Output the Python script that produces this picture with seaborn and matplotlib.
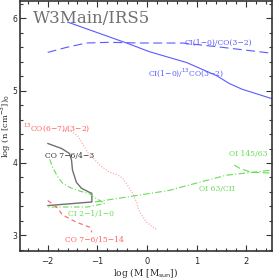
import numpy as np
import pandas as pd
import matplotlib
matplotlib.use('Agg')
import matplotlib.pyplot as plt
from matplotlib.ticker import MultipleLocator
import seaborn as sns

# curves (log M, log n)
ci_co_x = [-2.0, -1.62, -1.22, -0.75, -0.15, 0.31, 0.72, 1.40, 2.5]
ci_co_y = [5.53, 5.60, 5.66, 5.67, 5.66, 5.66, 5.66, 5.61, 5.52]

ci_13co_x = [-1.60, -0.41, 0.05, 0.80, 1.40, 1.66, 1.92, 2.52]
ci_13co_y = [5.95, 5.66, 5.54, 5.39, 5.21, 5.10, 5.02, 4.89]

co13_x = [-1.70, -1.56, -1.40, -1.30, -1.20, -1.09, -0.95, -0.75, -0.61, -0.49,
          -0.39, -0.29, -0.21, -0.15, -0.01, 0.21]
co13_y = [4.45, 4.45, 4.38, 4.27, 4.15, 4.07, 3.97, 3.87, 3.84, 3.79,
          3.69, 3.58, 3.46, 3.32, 3.18, 3.07]

co76_43_x = [-2.00, -1.72, -1.56, -1.52, -1.50, -1.42, -1.32, -1.15, -1.11, -1.11, -2.00]
co76_43_y = [4.27, 4.20, 4.13, 4.04, 3.90, 3.73, 3.65, 3.59, 3.58, 3.46, 3.41]

ci21_x = [-1.96, -1.90, -1.80, -1.70, -1.55, -1.35, -1.15, -1.05, -0.85, -1.20, -1.60, -2.0]
ci21_y = [4.05, 3.94, 3.81, 3.72, 3.66, 3.61, 3.57, 3.52, 3.44, 3.39, 3.39, 3.39]

co76_1514_x = [-2.0, -1.82, -1.70, -1.42, -1.15, -1.11]
co76_1514_y = [3.48, 3.39, 3.28, 3.18, 3.11, 3.04]

oi63_x = [-1.05, 0.45, 0.66, 1.60, 2.51]
oi63_y = [3.46, 3.62, 3.66, 3.83, 3.90]

oi145_x = [1.76, 1.86, 2.10, 2.51]
oi145_y = [3.97, 3.93, 3.87, 3.86]

blue = '#5a5aff'
red = '#ff6060'
pink = '#ffa0a0'
green = '#66dd55'
gray = '#707070'

sns.set_style('ticks')
plt.rcParams['font.family'] = ['DejaVu Serif']

fig = plt.figure(figsize=(2.73, 2.79), dpi=100)
ax = fig.add_axes([0.073, 0.100, 0.923, 0.896])

def curve(x, y, color, ls, lw=0.8):
    df = pd.DataFrame({'x': x, 'y': y})
    sns.lineplot(data=df, x='x', y='y', sort=False, estimator=None,
                 color=color, linestyle=ls, linewidth=lw, ax=ax)

curve(ci_co_x, ci_co_y, blue, (0, (8, 4)))
curve(ci_13co_x, ci_13co_y, blue, '-')
curve(co13_x, co13_y, pink, (0, (1, 1.5)))
curve(co76_43_x, co76_43_y, gray, '-', 1.0)
curve(ci21_x, ci21_y, green, (0, (5, 2, 1, 2)))
curve(co76_1514_x, co76_1514_y, red, (0, (4, 3)))
curve(oi63_x, oi63_y, green, (0, (6, 2, 1, 2)))
curve(oi145_x, oi145_y, green, (0, (6, 3)))

fs = 5.5
ax.text(0.76, 5.66, 'CI(1\u22120)/CO(3\u22122)', color=blue, fontsize=fs, va='center')
ax.text(0.03, 5.25, 'CI(1\u22120)/$^{13}$CO(3\u22122)', color=blue, fontsize=fs, va='center')
ax.text(-2.50, 4.49, '$^{13}$CO(6\u22127)/(3\u22122)', color=red, fontsize=fs, va='center')
ax.text(-2.06, 4.09, 'CO 7\u22126/4\u22123', color='#303030', fontsize=fs, va='center')
ax.text(-1.60, 3.29, 'CI 2\u22121/1\u22120', color=green, fontsize=fs, va='center')
ax.text(-1.66, 2.94, 'CO 7\u22126/15\u221214', color=red, fontsize=fs, va='center')
ax.text(1.06, 3.64, 'OI 63/CII', color=green, fontsize=fs, va='center')
ax.text(1.66, 4.12, 'OI 145/63', color=green, fontsize=fs, va='center')
ax.text(-2.30, 6.0, 'W3Main/IRS5', color=gray, fontsize=12, va='center')

ax.set_xlim(-2.56, 2.52)
ax.set_ylim(2.78, 6.24)
ax.xaxis.set_minor_locator(MultipleLocator(0.2))
ax.yaxis.set_minor_locator(MultipleLocator(0.2))
ax.set_xticks([-2, -1, 0, 1, 2])
ax.set_xticklabels(['\u22122', '\u22121', '0', '1', '2'], family='DejaVu Sans')
ax.set_yticks([3, 4, 5, 6])
ax.set_yticklabels(['3', '4', '5', '6'], family='DejaVu Sans')
ax.tick_params(which='both', direction='in', top=True, right=True, width=0.8,
               color='#333333', labelsize=6)
ax.tick_params(axis='x', pad=4.5)
ax.tick_params(axis='y', pad=2, labelsize=5.5)
ax.tick_params(which='major', length=4)
ax.tick_params(which='minor', length=2)
for s in ax.spines.values():
    s.set_linewidth(1.2)
    s.set_color('#333333')

ax.set_xlabel(r'log (M [M$_{\rm sun}$])', fontsize=6.5, va='center')
ax.set_ylabel(r'log (n [cm$^{-3}$])$_0$', fontsize=6, va='center')
ax.xaxis.set_label_coords(0.5, -0.086)
ax.yaxis.set_label_coords(-0.055, 0.5)

fig.savefig('out.png', dpi=100)
